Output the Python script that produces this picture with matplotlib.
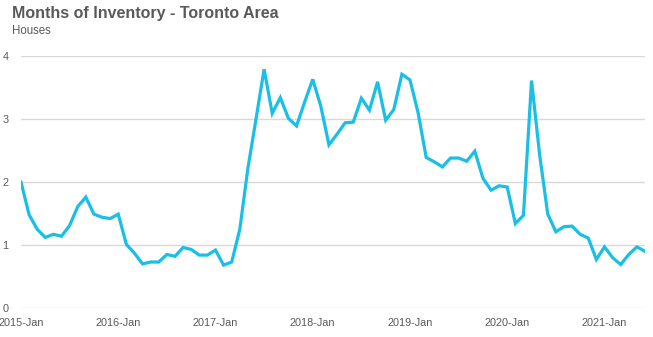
import matplotlib
matplotlib.use('Agg')
import matplotlib.pyplot as plt
import numpy as np

# 每月库存月数 (2015-Jan ~ 2021-Jun)
values_2015 = [2.00, 1.48, 1.25, 1.12, 1.17, 1.14, 1.31, 1.61, 1.76, 1.49, 1.44, 1.42]
values_2016 = [1.49, 1.01, 0.87, 0.70, 0.73, 0.73, 0.85, 0.82, 0.96, 0.93, 0.84, 0.84]
values_2017 = [0.92, 0.68, 0.73, 1.25, 2.22, 3.00, 3.79, 3.09, 3.34, 3.01, 2.89, 3.27]
values_2018 = [3.63, 3.20, 2.59, 2.76, 2.94, 2.95, 3.33, 3.14, 3.59, 2.98, 3.15, 3.71]
values_2019 = [3.62, 3.10, 2.39, 2.32, 2.24, 2.38, 2.38, 2.33, 2.49, 2.06, 1.87, 1.94]
values_2020 = [1.92, 1.34, 1.47, 3.61, 2.43, 1.49, 1.21, 1.29, 1.30, 1.17, 1.11, 0.77]
values_2021 = [0.97, 0.80, 0.69, 0.85, 0.97, 0.90]

tick_labels = ['2015-Jan', '2016-Jan', '2017-Jan', '2018-Jan', '2019-Jan', '2020-Jan', '2021-Jan']

values = values_2015 + values_2016 + values_2017 + values_2018 + values_2019 + values_2020 + values_2021
months = np.arange(len(values))

plt.rcParams['font.family'] = ['Liberation Sans', 'DejaVu Sans']

fig = plt.figure(figsize=(6.53, 3.37), dpi=100)
ax = fig.add_axes([21 / 653, 1 - 308 / 337, (645 - 21) / 653, (308 - 56) / 337])

ax.plot(months, values, color='#19BFE6', linewidth=2.3, solid_joinstyle='miter')

ax.set_xlim(0, len(values) - 1)
ax.set_ylim(0, 4)
ax.set_yticks([0, 1, 2, 3, 4])
ax.set_xticks(np.arange(0, len(values), 12))
ax.set_xticklabels(tick_labels)
ax.grid(axis='y', color='#d9d9d9', linewidth=1)
ax.set_axisbelow(True)
for s in ax.spines.values():
    s.set_visible(False)
ax.tick_params(length=0, labelsize=7.8, colors='#595959')
ax.tick_params(axis='y', pad=9)
ax.tick_params(axis='x', pad=7)

fig.text(12 / 653, 1 - 6 / 337, 'Months of Inventory - Toronto Area', fontsize=11.5,
         fontweight='bold', color='#595959', va='top', ha='left')
fig.text(12 / 653, 1 - 25 / 337, 'Houses', fontsize=8.3, color='#595959', va='top', ha='left')

fig.savefig('out.png', dpi=100)
